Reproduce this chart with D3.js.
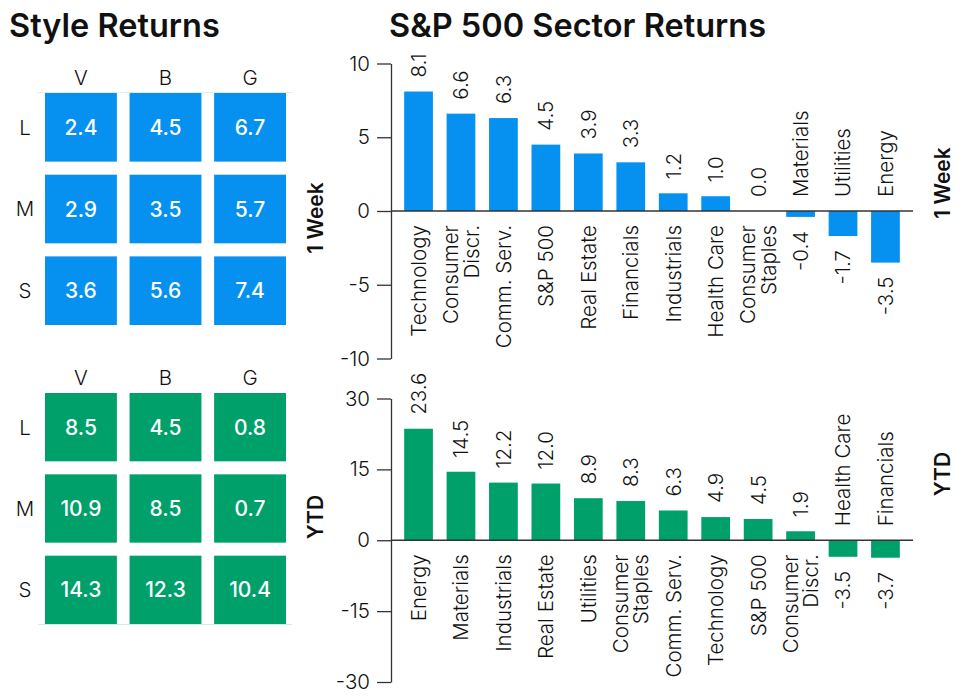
<!DOCTYPE html>
<html>
<head>
<meta charset="utf-8">
<script src="https://cdn.jsdelivr.net/npm/d3@7"></script>
<style>
  body { margin: 0; background: #fff; }
  text { font-family: Inter, "Liberation Sans", Arial, sans-serif; fill: #111; }
</style>
</head>
<body>
<div id="chart"></div>
<script>
// style grid
var sizes = ["L", "M", "S"];
var styles = ["V", "B", "G"];
var weekStyle = [[2.4, 4.5, 6.7], [2.9, 3.5, 5.7], [3.6, 5.6, 7.4]];
var ytdStyle = [[8.5, 4.5, 0.8], [10.9, 8.5, 0.7], [14.3, 12.3, 10.4]];

// sector bars
var weekCats = ["Technology", "Consumer\nDiscr.", "Comm. Serv.", "S&P 500", "Real Estate", "Financials",
  "Industrials", "Health Care", "Consumer\nStaples", "Materials", "Utilities", "Energy"];
var weekVals = [8.1, 6.6, 6.3, 4.5, 3.9, 3.3, 1.2, 1.0, 0.0, -0.4, -1.7, -3.5];
var ytdCats = ["Energy", "Materials", "Industrials", "Real Estate", "Utilities", "Consumer\nStaples",
  "Comm. Serv.", "Technology", "S&P 500", "Consumer\nDiscr.", "Health Care", "Financials"];
var ytdVals = [23.6, 14.5, 12.2, 12.0, 8.9, 8.3, 6.3, 4.9, 4.5, 1.9, -3.5, -3.7];

var weekTicks = [-10, -5, 0, 5, 10];
var ytdTicks = [-30, -15, 0, 15, 30];

var blue = "#0690f0";
var green = "#00a06b";
var fs = 20.5;

var svg = d3.select("#chart")
  .append("svg")
  .attr("width", 980)
  .attr("height", 698);

svg.append("text")
  .attr("x", 9).attr("y", 37)
  .attr("font-size", 32.5).attr("font-weight", 600)
  .text("Style Returns");

svg.append("text")
  .attr("x", 389).attr("y", 37)
  .attr("font-size", 32.5).attr("font-weight", 600)
  .text("S&P 500 Sector Returns");

var xCol = d3.scaleBand().domain(styles).range([45, 286]).paddingInner(0.15);

function drawGrid(values, top, bottom, color, edgeColor, edgeY, label, labelY) {
  var yRow = d3.scaleBand().domain(sizes).range([top, bottom]).paddingInner(0.16);
  var g = svg.append("g");

  // faint edge line seen in the original
  g.append("line")
    .attr("x1", 38).attr("x2", 292)
    .attr("y1", edgeY).attr("y2", edgeY)
    .attr("stroke", edgeColor).attr("stroke-width", 1);

  g.selectAll(".colHead")
    .data(styles)
    .enter().append("text")
    .attr("x", d => xCol(d) + xCol.bandwidth() / 2)
    .attr("y", top - 8)
    .attr("text-anchor", "middle")
    .attr("font-size", fs)
    .attr("font-weight", 300)
    .text(d => d);

  g.selectAll(".rowHead")
    .data(sizes)
    .enter().append("text")
    .attr("x", 25)
    .attr("y", d => yRow(d) + yRow.bandwidth() / 2)
    .attr("dy", "0.36em")
    .attr("text-anchor", "middle")
    .attr("font-size", fs)
    .attr("font-weight", 300)
    .text(d => d);

  var cells = [];
  sizes.forEach(function(s, i) {
    styles.forEach(function(st, j) {
      cells.push({ size: s, style: st, value: values[i][j] });
    });
  });

  g.selectAll("rect")
    .data(cells)
    .enter().append("rect")
    .attr("x", d => xCol(d.style))
    .attr("y", d => yRow(d.size))
    .attr("width", xCol.bandwidth())
    .attr("height", yRow.bandwidth())
    .attr("fill", color);

  g.selectAll(".cellText")
    .data(cells)
    .enter().append("text")
    .attr("x", d => xCol(d.style) + xCol.bandwidth() / 2)
    .attr("y", d => yRow(d.size) + yRow.bandwidth() / 2)
    .attr("dy", "0.36em")
    .attr("text-anchor", "middle")
    .attr("font-size", 21)
    .attr("font-weight", 500)
    .style("fill", "#fff")
    .text(d => d.value.toFixed(1));

  svg.append("text")
    .attr("transform", `translate(315, ${labelY}) rotate(-90)`)
    .attr("dy", "0.36em")
    .attr("text-anchor", "middle")
    .attr("font-size", 21)
    .attr("font-weight", 600)
    .text(label);
}

drawGrid(weekStyle, 93, 325, blue, "#d8ecfb", 92.5, "1 Week", 218);
drawGrid(ytdStyle, 393, 624, green, "#d3efe4", 624.5, "YTD", 517);

function addLines(sel, lineH) {
  sel.each(function(d) {
    var parts = d.split("\n");
    var t = d3.select(this);
    parts.forEach(function(p, i) {
      t.append("tspan")
        .attr("x", 0)
        .attr("dy", i == 0 ? (0.36 - (parts.length - 1) * lineH / 2) + "em" : lineH + "em")
        .text(p);
    });
  });
}

function drawBars(cats, vals, ticks, top, bottom, color, label, labelY) {
  var x = d3.scaleBand().domain(cats).range([391, 913]).paddingInner(0.323).paddingOuter(0.31);
  var y = d3.scaleLinear().domain([ticks[0], ticks[ticks.length - 1]]).range([bottom, top]);
  var data = cats.map((c, i) => ({ cat: c, value: vals[i] }));
  var g = svg.append("g");

  var axis = g.append("g")
    .attr("transform", "translate(391, 0)")
    .call(d3.axisLeft(y).tickValues(ticks).tickFormat(d => String(d))
      .tickSize(14).tickSizeOuter(0).tickPadding(7));
  axis.selectAll("path, line").attr("stroke", "#333").attr("stroke-width", 1.3);
  axis.selectAll("text")
    .attr("font-size", fs)
    .attr("font-weight", 300)
    .attr("font-family", "Inter, Liberation Sans, Arial, sans-serif")
    .attr("fill", "#111");

  g.selectAll("rect")
    .data(data)
    .enter().append("rect")
    .attr("x", d => x(d.cat))
    .attr("y", d => y(Math.max(0, d.value)))
    .attr("width", x.bandwidth())
    .attr("height", d => Math.abs(y(d.value) - y(0)))
    .attr("fill", color);

  g.append("line")
    .attr("x1", 391).attr("x2", 913)
    .attr("y1", y(0)).attr("y2", y(0))
    .attr("stroke", "#333").attr("stroke-width", 1.3);

  g.selectAll(".val")
    .data(data)
    .enter().append("text")
    .attr("transform", d => `translate(${x(d.cat) + x.bandwidth() / 2}, ${d.value >= 0 ? y(d.value) - 14 : y(d.value) + 14}) rotate(-90)`)
    .attr("dy", "0.36em")
    .attr("text-anchor", d => d.value >= 0 ? "start" : "end")
    .attr("font-size", fs)
    .attr("font-weight", 300)
    .text(d => d.value.toFixed(1));

  g.selectAll(".cat")
    .data(data)
    .enter().append("text")
    .attr("transform", d => `translate(${x(d.cat) + x.bandwidth() / 2}, ${d.value >= 0 ? y(0) + 14 : y(0) - 14}) rotate(-90)`)
    .attr("text-anchor", d => d.value >= 0 ? "end" : "start")
    .attr("font-size", fs)
    .attr("font-weight", 300)
    .datum(d => d.cat)
    .call(addLines, 1.0);

  svg.append("text")
    .attr("transform", `translate(942, ${labelY}) rotate(-90)`)
    .attr("dy", "0.36em")
    .attr("text-anchor", "middle")
    .attr("font-size", 21)
    .attr("font-weight", 600)
    .text(label);
}

drawBars(weekCats, weekVals, weekTicks, 63.5, 358.5, blue, "1 Week", 183);
drawBars(ytdCats, ytdVals, ytdTicks, 398.5, 682, green, "YTD", 474);
</script>
</body>
</html>
